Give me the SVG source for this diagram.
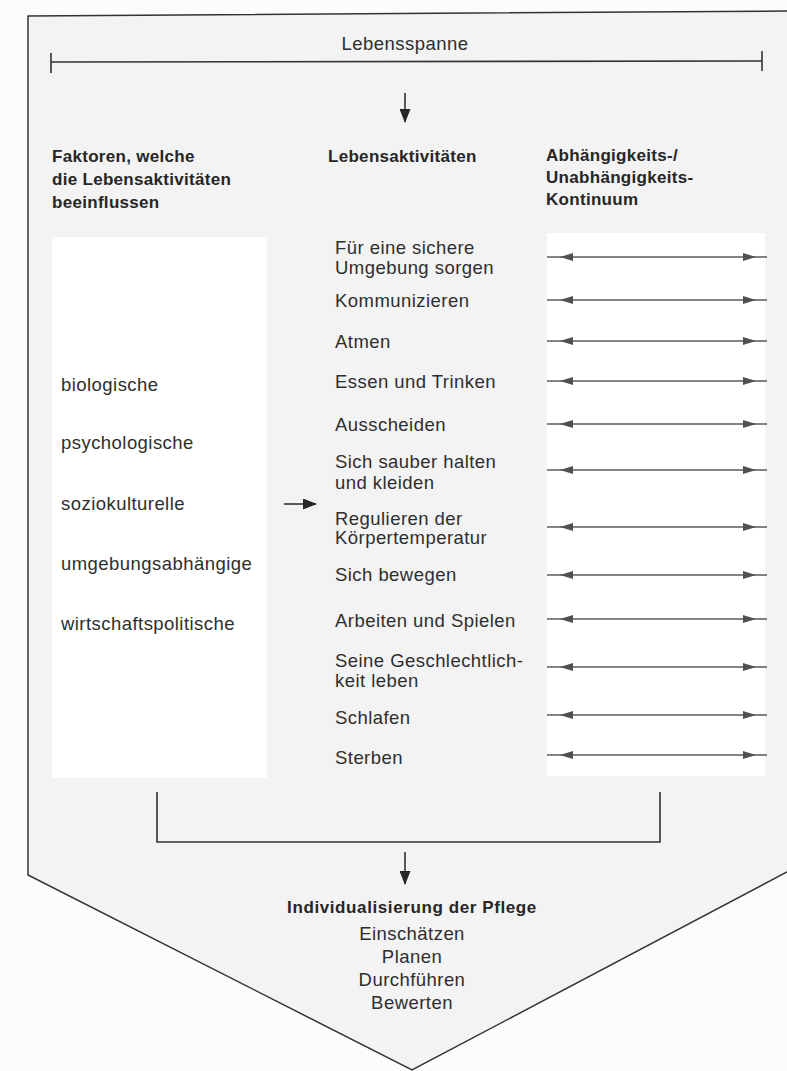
<svg xmlns="http://www.w3.org/2000/svg" xmlns:xlink="http://www.w3.org/1999/xlink" width="787" height="1071" viewBox="0 0 787 1071">
  <style>
    text { font-family: "Liberation Sans", Arial, sans-serif; fill: #2e2e2e; }
    .hdr { font-size: 17px; font-weight: bold; letter-spacing: 0.3px; fill: #262626; }
    .item { font-size: 18.5px; letter-spacing: 0.45px; }
    .ctr { text-anchor: middle; }
    .ln { stroke: #333; stroke-width: 1.6; fill: none; }
    .box { fill: #ffffff; stroke: none; }
  </style>
  <defs>
    <marker id="ah" viewBox="0 0 14 11" refX="13" refY="5.5" markerWidth="14" markerHeight="11" markerUnits="userSpaceOnUse" orient="auto">
      <path d="M0,0 L14,5.5 L0,11 z" fill="#262626"/>
    </marker>
    <g id="dbl">
      <line x1="547" y1="0" x2="767" y2="0" stroke="#5a5a5a" stroke-width="1.5"/>
      <path d="M560,0 L573,-4 L573,4 z" fill="#505050"/>
      <path d="M756,0 L743,-4 L743,4 z" fill="#505050"/>
    </g>
  </defs>

  <rect width="787" height="1071" fill="#fcfcfc"/>

  <g id="frame">
    <path d="M28,16 L787,11 L787,872 L412,1070 L28,875 Z" fill="#f3f3f3" stroke="none"/>
    <path d="M787,11 L28,16 L28,875 L412,1070 L787,872" fill="none" stroke="#333" stroke-width="1.5"/>
  </g>

  <g id="lebensspanne">
    <text class="item ctr" x="405" y="50">Lebensspanne</text>
    <line class="ln" x1="51" y1="62" x2="762" y2="61" stroke-width="2"/>
    <line class="ln" x1="51" y1="53" x2="51" y2="73" stroke-width="2"/>
    <line class="ln" x1="762" y1="51" x2="762" y2="71" stroke-width="2"/>
  </g>

  <g id="header-factors">
    <text class="hdr" x="52" y="162">Faktoren, welche</text>
    <text class="hdr" x="52" y="185">die Lebensaktivitäten</text>
    <text class="hdr" x="52" y="208">beeinflussen</text>
  </g>

  <g id="header-activities">
    <text class="hdr" x="328" y="162">Lebensaktivitäten</text>
  </g>

  <g id="header-continuum">
    <text class="hdr" x="546" y="161">Abhängigkeits-/</text>
    <text class="hdr" x="546" y="183">Unabhängigkeits-</text>
    <text class="hdr" x="546" y="205">Kontinuum</text>
  </g>

  <g id="factors">
    <rect class="box" x="52" y="237" width="215" height="541"/>
    <text class="item" x="61" y="391">biologische</text>
    <text class="item" x="61" y="449">psychologische</text>
    <text class="item" x="61" y="510">soziokulturelle</text>
    <text class="item" x="61" y="570">umgebungsabhängige</text>
    <text class="item" x="61" y="630">wirtschaftspolitische</text>
  </g>

  <g id="activities">
    <text class="item" x="335" y="254">Für eine sichere</text>
    <text class="item" x="335" y="274">Umgebung sorgen</text>
    <text class="item" x="335" y="307">Kommunizieren</text>
    <text class="item" x="335" y="348">Atmen</text>
    <text class="item" x="335" y="388">Essen und Trinken</text>
    <text class="item" x="335" y="431">Ausscheiden</text>
    <text class="item" x="335" y="468">Sich sauber halten</text>
    <text class="item" x="335" y="489">und kleiden</text>
    <text class="item" x="335" y="525">Regulieren der</text>
    <text class="item" x="335" y="544">Körpertemperatur</text>
    <text class="item" x="335" y="581">Sich bewegen</text>
    <text class="item" x="335" y="627">Arbeiten und Spielen</text>
    <text class="item" x="335" y="667">Seine Geschlechtlich-</text>
    <text class="item" x="335" y="687">keit leben</text>
    <text class="item" x="335" y="724">Schlafen</text>
    <text class="item" x="335" y="764">Sterben</text>
  </g>

  <g id="continuum">
    <rect class="box" x="547" y="233" width="218" height="543"/>
  </g>

  <g id="outcome">
    <text class="hdr ctr" x="412" y="913" style="letter-spacing:0.6px">Individualisierung der Pflege</text>
    <text class="item ctr" x="412" y="940">Einschätzen</text>
    <text class="item ctr" x="412" y="963">Planen</text>
    <text class="item ctr" x="412" y="986">Durchführen</text>
    <text class="item ctr" x="412" y="1009">Bewerten</text>
  </g>

  <g id="connectors">
    <line class="ln" x1="405" y1="93" x2="405" y2="122" stroke-width="2" marker-end="url(#ah)"/>
    <line class="ln" x1="284" y1="504" x2="316" y2="504" stroke-width="2.2" marker-end="url(#ah)"/>
    <path class="ln" d="M157,792 V842 H660 V792"/>
    <line class="ln" x1="405" y1="852" x2="405" y2="884" stroke-width="2" marker-end="url(#ah)"/>
    <use xlink:href="#dbl" href="#dbl" y="257"/>
    <use xlink:href="#dbl" href="#dbl" y="300"/>
    <use xlink:href="#dbl" href="#dbl" y="341"/>
    <use xlink:href="#dbl" href="#dbl" y="381"/>
    <use xlink:href="#dbl" href="#dbl" y="424"/>
    <use xlink:href="#dbl" href="#dbl" y="470"/>
    <use xlink:href="#dbl" href="#dbl" y="527"/>
    <use xlink:href="#dbl" href="#dbl" y="575"/>
    <use xlink:href="#dbl" href="#dbl" y="619"/>
    <use xlink:href="#dbl" href="#dbl" y="667"/>
    <use xlink:href="#dbl" href="#dbl" y="715"/>
    <use xlink:href="#dbl" href="#dbl" y="755"/>
  </g>
</svg>
